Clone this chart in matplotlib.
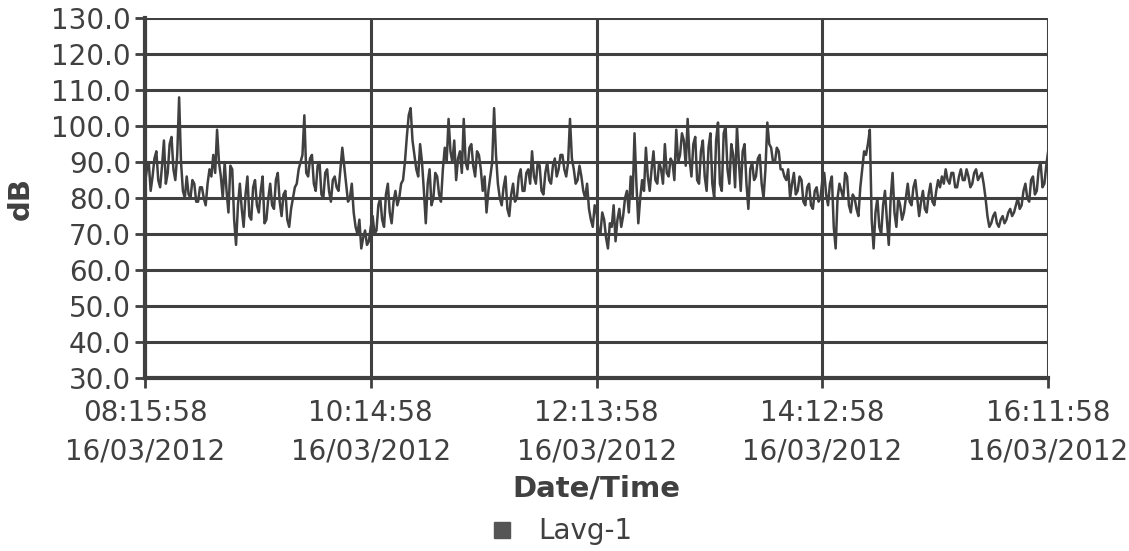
import matplotlib
matplotlib.use("Agg")
import matplotlib.pyplot as plt
import matplotlib.dates as mdates
from matplotlib.lines import Line2D
import pandas as pd

# Lavg-1 readings (dB), one per minute from 08:15:58
START = "2012-03-16 08:15:58"
STEP_MIN = 1
lavg = [
    84, 88, 90, 82, 86, 91, 93, 85, 83, 89, 96, 84, 87, 95, 97, 88, 85, 92, 108, 90,
    82, 80, 86, 81, 80, 85, 84, 79, 79, 83, 83, 80, 78, 84, 88, 86, 92, 87, 99, 90,
    86, 80, 90, 82, 76, 89, 88, 74, 67, 78, 84, 77, 72, 81, 86, 75, 74, 83, 85, 78,
    76, 82, 86, 73, 74, 80, 84, 78, 77, 85, 87, 79, 75, 81, 82, 74, 72, 77, 80, 83,
    84, 88, 90, 92, 103, 87, 86, 91, 92, 84, 82, 89, 90, 81, 80, 87, 88, 82, 79, 85,
    86, 83, 82, 88, 94, 89, 84, 79, 80, 84, 76, 72, 70, 74, 66, 69, 71, 67, 68, 72,
    75, 70, 71, 78, 80, 74, 72, 81, 84, 76, 73, 79, 82, 78, 80, 84, 85, 90, 97, 103,
    105, 96, 92, 88, 86, 95, 90, 82, 73, 84, 88, 78, 80, 87, 86, 81, 79, 88, 94, 90,
    102, 93, 90, 96, 85, 91, 93, 87, 102, 90, 88, 94, 95, 89, 86, 93, 92, 88, 82, 86,
    76, 82, 86, 90, 105, 92, 84, 80, 78, 83, 86, 77, 75, 81, 84, 79, 80, 86, 88, 82,
    82, 87, 88, 84, 93, 86, 84, 90, 89, 82, 81, 87, 90, 85, 84, 89, 91, 86, 88, 92,
    92, 88, 86, 90, 102, 91, 88, 84, 85, 89, 86, 82, 80, 84, 77, 74, 72, 78, 76, 71,
    70, 76, 74, 69, 66, 73, 72, 78, 68, 74, 77, 72, 75, 80, 82, 76, 86, 80, 98, 84,
    73, 80, 85, 82, 94, 86, 82, 88, 93, 85, 84, 90, 88, 84, 95, 87, 86, 91, 90, 85,
    99, 90, 92, 98, 96, 89, 102, 91, 86, 95, 97, 85, 84, 93, 96, 86, 82, 94, 98, 84,
    80, 96, 101, 84, 82, 98, 100, 88, 84, 95, 92, 83, 100, 90, 82, 93, 95, 84, 77, 88,
    90, 85, 86, 91, 92, 84, 80, 88, 101, 95, 94, 90, 90, 94, 93, 88, 88, 86, 85, 88,
    80, 84, 87, 81, 82, 86, 85, 79, 78, 83, 84, 78, 77, 82, 83, 79, 80, 85, 87, 81,
    78, 84, 86, 72, 66, 80, 84, 82, 80, 87, 86, 78, 76, 81, 80, 77, 75, 83, 88, 93,
    92, 95, 99, 74, 66, 76, 80, 72, 70, 78, 82, 74, 67, 80, 87, 76, 72, 80, 78, 74,
    76, 80, 84, 79, 78, 83, 85, 80, 75, 79, 82, 77, 76, 81, 84, 79, 78, 82, 85, 83,
    86, 84, 88, 85, 84, 87, 87, 83, 83, 86, 88, 85, 85, 88, 86, 83, 84, 87, 88, 85,
    86, 87, 84, 80, 75, 72, 73, 75, 76, 73, 72, 74, 75, 73, 74, 76, 77, 75, 76, 78,
    80, 77, 78, 82, 84, 80, 79, 85, 86, 81, 82, 88, 90, 83, 84, 89, 93,
]
TICK_STEP = "119min"
N_TICKS = 5
Y_TICKS = [30, 40, 50, 60, 70, 80, 90, 100, 110, 120, 130]

INK = "#404040"

times = pd.date_range(START, periods=len(lavg), freq=f"{STEP_MIN}min")
xticks = pd.date_range(START, periods=N_TICKS, freq=TICK_STEP)

plt.rcParams["font.family"] = ["DejaVu Sans"]

fig = plt.figure(figsize=(11.29, 5.51), dpi=100)
ax = fig.add_axes([0.1284, 0.314, 0.8, 0.653])

ax.plot(times, lavg, color=INK, lw=1.8, zorder=3)

ax.set_ylim(30, 130)
ax.set_yticks(Y_TICKS)
ax.set_yticklabels([f"{v:.1f}" for v in Y_TICKS])
ax.set_xlim(times[0], times[-1])
ax.set_xticks(xticks)
ax.xaxis.set_major_formatter(mdates.DateFormatter("%H:%M:%S\n%d/%m/%Y"))

ax.grid(True, color=INK, lw=2.2, zorder=1)
for side in ("top", "right"):
    ax.spines[side].set_visible(False)
for side in ("left", "bottom"):
    ax.spines[side].set_color(INK)
    ax.spines[side].set_linewidth(3.0)

ax.tick_params(axis="y", colors=INK, labelsize=20, length=7, width=2, pad=3)
ax.tick_params(axis="x", colors=INK, labelsize=20, length=7, width=2, pad=8)
for lab in ax.get_xticklabels():
    lab.set_linespacing(1.5)

ax.set_ylabel("dB", fontsize=21, fontweight="bold", color=INK, labelpad=12)
ax.set_xlabel("Date/Time", fontsize=21, fontweight="bold", color=INK, labelpad=6)

handle = Line2D([], [], ls="none", marker="s", ms=11, color="#555555")
fig.legend([handle], ["Lavg-1"], loc="lower center", bbox_to_anchor=(0.49, -0.035),
           frameon=False, fontsize=20, labelcolor=INK, handletextpad=0.3)

fig.savefig("out.png", dpi=100)
